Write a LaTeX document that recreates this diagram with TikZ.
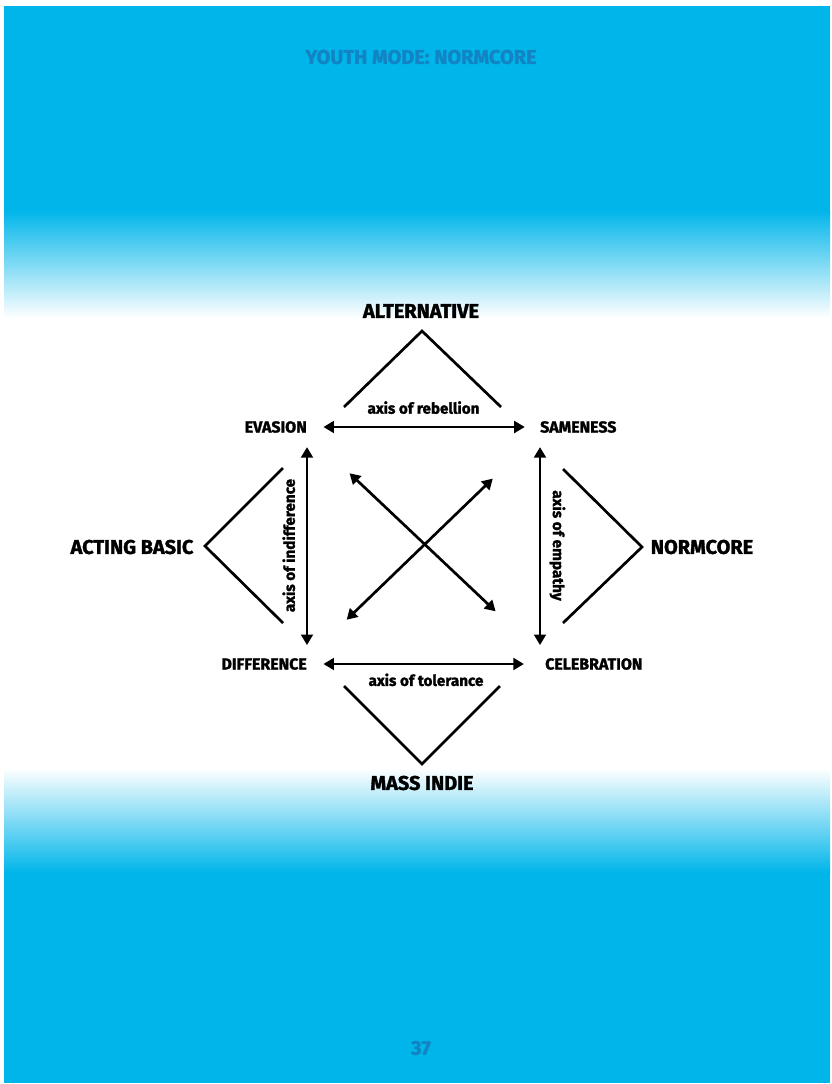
\documentclass[tikz,border=0pt]{standalone}
\usepackage{fontspec}
\newfontfamily\dinfont{Fira Sans}[BoldFeatures={FakeBold=1.6}]
\usetikzlibrary{positioning, arrows.meta, calc}

\definecolor{pageblue}{RGB}{0,181,234}
\definecolor{titleblue}{RGB}{18,132,196}

\begin{document}
\begin{tikzpicture}[x=0.03cm, y=-0.03cm,
	pole/.style={font=\dinfont\bfseries\fontsize{17}{20}\selectfont, inner sep=0pt},
	corner/.style={font=\dinfont\bfseries\fontsize{13.6}{16}\selectfont, inner sep=0pt},
	axislabel/.style={font=\dinfont\bfseries\fontsize{13}{15}\selectfont, inner sep=0pt},
	axis/.style={{Triangle[length=9pt,width=10pt]}-{Triangle[length=9pt,width=10pt]}, line width=2.3pt},
	wedge/.style={line width=2.3pt},
	]

	% page background
	\useasboundingbox (0,0) rectangle (831,1084);
	\fill[white] (0,0) rectangle (831,1084);
	\fill[pageblue] (4,6) rectangle (830,1083);
	\shade[top color=pageblue, bottom color=white] (4,210) rectangle (830,318);
	\fill[white] (4,318) rectangle (830,768);
	\shade[top color=white, bottom color=pageblue] (4,768) rectangle (830,873);

	\node[pole, text=titleblue] (title) at (421,57) {YOUTH MODE: NORMCORE};
	\node[pole, text=titleblue] (pagenum) at (421,1048) {37};

	% the four poles
	\node[pole] (alt) at (421,311) {ALTERNATIVE};
	\node[pole] (basic) at (132,547) {ACTING BASIC};
	\node[pole] (norm) at (702,547) {NORMCORE};
	\node[pole] (indie) at (422,783) {MASS INDIE};

	% the corners
	\node[corner, anchor=east] (evasion) at (307,427) {EVASION};
	\node[corner, anchor=west] (same) at (540,427) {SAMENESS};
	\node[corner, anchor=east] (diff) at (307,664) {DIFFERENCE};
	\node[corner, anchor=west] (celeb) at (545,664) {CELEBRATION};

	\draw[axis, shorten <=14pt, shorten >=13pt] (evasion) -- (same) node[axislabel, midway, above=10pt] {axis of rebellion};
	\draw[axis, shorten <=14pt, shorten >=18pt] (diff) -- (celeb) node[axislabel, midway, below=7pt] {axis of tolerance};
	\draw[axis, shorten <=11pt, shorten >=12pt] (diff.north east) -- (evasion.south east) node[axislabel, midway, sloped, above=9pt] {axis of indifference};
	\draw[axis, shorten <=12pt, shorten >=11pt] (same.south west) -- (same.south west |- celeb.north) node[axislabel, midway, sloped, above=7pt] {axis of empathy};

	\draw[axis, shorten <=50pt, shorten >=58pt] (evasion.south east) -- (celeb.north west);
	\draw[axis, shorten <=47pt, shorten >=56pt] (diff.north east) -- (same.south west);

	% wedges pointing to the poles
	\draw[wedge] (344,407) -- (422,331) -- (501,407);
	\draw[wedge] (283,468) -- (205,546) -- (283,623);
	\draw[wedge] (563,469) -- (642,547) -- (563,623);
	\draw[wedge] (344,686) -- (422,764) -- (500,686);

\end{tikzpicture}
\end{document}
